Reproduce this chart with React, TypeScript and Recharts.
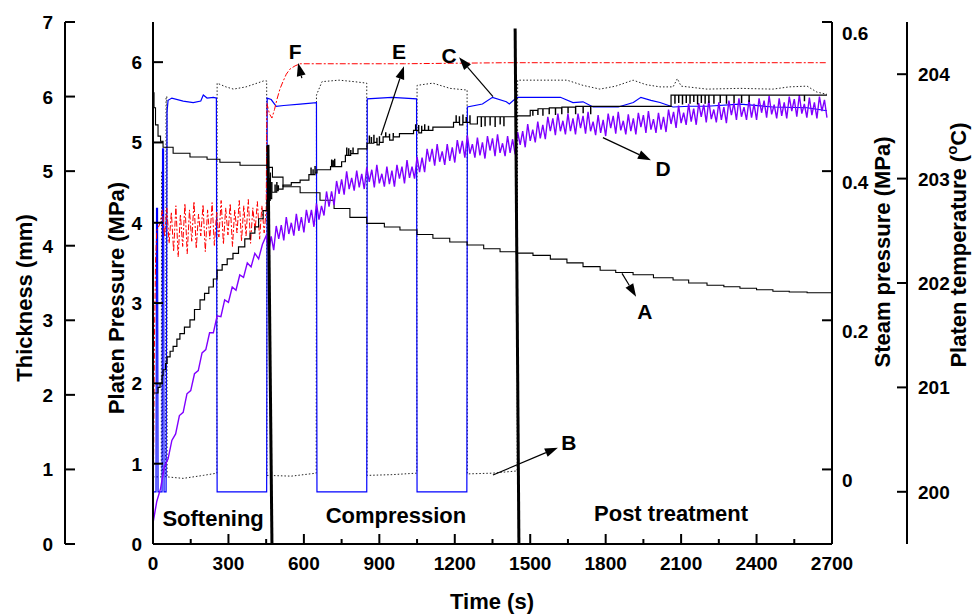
import { LineChart, Line, XAxis, YAxis, ReferenceLine, ReferenceDot } from "recharts"

const FONT = '"Liberation Sans", Arial, Helvetica, sans-serif'

// tick values
const TIME_TICKS = [0, 150, 300, 450, 600, 750, 900, 1050, 1200, 1350, 1500, 1650, 1800, 1950, 2100, 2250, 2400, 2550, 2700]
const THICK_TICKS = [0, 1, 2, 3, 4, 5, 6, 7]
const PRESS_TICKS = [0, 1, 2, 3, 4, 5, 6]
const STEAM_TICKS = [0, 0.2, 0.4, 0.6]
const TEMP_TICKS = [200, 201, 202, 203, 204]

// A: thickness (mm) vs time (s)
const thicknessA: [number, number][] = [
  [0, 6.05], [4, 5.85], [10, 5.62], [20, 5.47], [30, 5.4], [40, 5.32], [80, 5.24], [147, 5.19],
  [215, 5.16], [266, 5.12], [346, 5.08], [453, 5.05], [475, 4.92], [517, 4.79], [585, 4.71],
  [664, 4.61], [720, 4.5], [783, 4.38], [850, 4.3], [920, 4.25], [982, 4.21], [1050, 4.15],
  [1113, 4.1], [1180, 4.05], [1249, 4.01], [1315, 3.96], [1380, 3.92], [1445, 3.9], [1511, 3.87],
  [1580, 3.82], [1646, 3.77], [1710, 3.72], [1778, 3.67], [1840, 3.64], [1909, 3.61], [1990, 3.57],
  [2068, 3.54], [2130, 3.5], [2203, 3.47], [2270, 3.45], [2334, 3.43], [2400, 3.41], [2465, 3.39],
  [2530, 3.38], [2601, 3.37], [2700, 3.35],
]

// B: steam pressure (MPa)
const steamB: [number, number][] = [
  [0, -0.01], [33, -0.01], [34, 0.4], [37, 0.4], [38, -0.01], [50, -0.01], [52, 0.5], [55, 0.5],
  [56, -0.01], [120, -0.012], [200, -0.008], [254, -0.005], [255, 0.518], [290, 0.513], [320, 0.51],
  [370, 0.513], [440, 0.521], [452, 0.521], [453, -0.008], [550, -0.009], [649, -0.005], [650, 0.502],
  [672, 0.52], [740, 0.522], [800, 0.52], [850, 0.518], [851, -0.008], [950, -0.007], [1049, -0.005],
  [1050, 0.515], [1113, 0.518], [1181, 0.511], [1240, 0.509], [1249, 0.509], [1250, -0.006],
  [1350, -0.005], [1448, -0.002], [1450, 0.522], [1646, 0.522], [1710, 0.515], [1777, 0.51],
  [1840, 0.514], [1909, 0.522], [1960, 0.516], [2016, 0.513], [2068, 0.513], [2085, 0.524],
  [2100, 0.514], [2203, 0.51], [2334, 0.511], [2465, 0.51], [2530, 0.513], [2601, 0.514],
  [2640, 0.506], [2680, 0.503],
]

// C: blue pressure curve (steam axis)
const pressureC: [number, number][] = [
  [0, -0.03], [12, -0.03], [14, 0.35], [18, 0.35], [20, -0.03], [36, -0.03], [38, 0.43], [42, 0.43],
  [44, -0.03], [52, -0.03], [56, 0.48], [60, 0.495], [75, 0.498], [120, 0.494], [160, 0.492],
  [190, 0.494], [200, 0.502], [215, 0.498], [240, 0.499], [252, 0.498], [255, -0.03], [452, -0.03],
  [454, 0.498], [470, 0.496], [490, 0.487], [520, 0.488], [585, 0.49], [650, 0.492], [652, -0.03],
  [850, -0.03], [852, 0.497], [950, 0.499], [1048, 0.497], [1050, -0.03], [1248, -0.03],
  [1250, 0.486], [1310, 0.49], [1350, 0.499], [1405, 0.493], [1417, 0.49], [1447, 0.499],
  [1620, 0.499], [1670, 0.492], [1710, 0.493], [1750, 0.486], [1850, 0.486], [1910, 0.492],
  [1940, 0.499], [1980, 0.495], [2016, 0.492], [2068, 0.486], [2135, 0.487], [2203, 0.487],
  [2334, 0.49], [2465, 0.486], [2601, 0.485], [2680, 0.481],
]

// D: purple noisy curve (platen pressure axis)
const curveD: [number, number][] = [
  [0, 0.26], [15, 0.53], [30, 0.69], [45, 0.96], [60, 1.06], [75, 1.29], [90, 1.37], [105, 1.6],
  [120, 1.64], [135, 1.87], [150, 1.91], [165, 2.12], [180, 2.16], [195, 2.38], [210, 2.42], [225, 2.63],
  [240, 2.63], [255, 2.84], [270, 2.83], [285, 3.04], [300, 3.01], [315, 3.2], [330, 3.16], [345, 3.35],
  [360, 3.32], [375, 3.5], [390, 3.45], [405, 3.62], [420, 3.55], [435, 3.73],
  [450, 3.84], [460, 3.65], [470, 3.83], [480, 3.66], [490, 3.96], [500, 3.8], [510, 3.97], [520, 3.78],
  [530, 4.07], [540, 3.86], [550, 4.0], [560, 3.84], [570, 4.11], [580, 3.9], [590, 4.07], [600, 3.88],
  [610, 4.16], [620, 4.0], [630, 4.16], [640, 3.95], [650, 4.24], [660, 4.04], [670, 4.21], [680, 4.09],
  [690, 4.39], [700, 4.2], [710, 4.39], [720, 4.22], [730, 4.52], [740, 4.36], [750, 4.54], [760, 4.35],
  [770, 4.64], [780, 4.42], [790, 4.56], [800, 4.4], [810, 4.65], [820, 4.44], [830, 4.61], [840, 4.42],
  [850, 4.69], [860, 4.51], [870, 4.66], [880, 4.44], [890, 4.72], [900, 4.49], [910, 4.61], [920, 4.45],
  [930, 4.7], [940, 4.48], [950, 4.65], [960, 4.45], [970, 4.72], [980, 4.55], [990, 4.7], [1000, 4.49],
  [1010, 4.78], [1020, 4.56], [1030, 4.7], [1040, 4.55], [1050, 4.82], [1060, 4.63], [1070, 4.81],
  [1080, 4.63], [1090, 4.92], [1100, 4.76], [1110, 4.92], [1120, 4.71], [1130, 4.98], [1140, 4.76],
  [1150, 4.89], [1160, 4.72], [1170, 4.98], [1180, 4.77], [1190, 4.94], [1200, 4.75], [1210, 5.03],
  [1220, 4.86], [1230, 5.02], [1240, 4.81], [1250, 5.09], [1260, 4.86], [1270, 4.98], [1280, 4.81],
  [1290, 5.06], [1300, 4.84], [1310, 5.0], [1320, 4.8], [1330, 5.08], [1340, 4.9], [1350, 5.05],
  [1360, 4.83], [1370, 5.1], [1380, 4.87], [1390, 4.99], [1400, 4.83], [1410, 5.08], [1420, 4.87],
  [1430, 5.04], [1440, 4.85], [1450, 5.13], [1460, 4.97], [1470, 5.14], [1480, 4.94], [1490, 5.23],
  [1500, 5.02], [1510, 5.16], [1520, 5.0], [1530, 5.26], [1540, 5.05], [1550, 5.22], [1560, 5.04],
  [1570, 5.32], [1580, 5.14], [1590, 5.3], [1600, 5.09], [1610, 5.36], [1620, 5.14], [1630, 5.27],
  [1640, 5.1], [1650, 5.36], [1660, 5.14], [1670, 5.3], [1680, 5.1], [1690, 5.36], [1700, 5.18],
  [1710, 5.33], [1720, 5.11], [1730, 5.38], [1740, 5.14], [1750, 5.26], [1760, 5.09], [1770, 5.34],
  [1780, 5.12], [1790, 5.28], [1800, 5.08], [1810, 5.36], [1820, 5.18], [1830, 5.33], [1840, 5.11],
  [1850, 5.38], [1860, 5.15], [1870, 5.27], [1880, 5.1], [1890, 5.35], [1900, 5.14], [1910, 5.3],
  [1920, 5.1], [1930, 5.37], [1940, 5.19], [1950, 5.34], [1960, 5.12], [1970, 5.39], [1980, 5.16],
  [1990, 5.29], [2000, 5.12], [2010, 5.37], [2020, 5.16], [2030, 5.32], [2040, 5.13], [2050, 5.41],
  [2060, 5.23], [2070, 5.38], [2080, 5.18], [2090, 5.46], [2100, 5.24], [2110, 5.37], [2120, 5.22],
  [2130, 5.48], [2140, 5.26], [2150, 5.42], [2160, 5.22], [2170, 5.49], [2180, 5.32], [2190, 5.47],
  [2200, 5.25], [2210, 5.52], [2220, 5.29], [2230, 5.41], [2240, 5.25], [2250, 5.5], [2260, 5.28],
  [2270, 5.44], [2280, 5.24], [2290, 5.52], [2300, 5.34], [2310, 5.49], [2320, 5.28], [2330, 5.55],
  [2340, 5.32], [2350, 5.44], [2360, 5.28], [2370, 5.53], [2380, 5.31], [2390, 5.48], [2400, 5.28],
  [2410, 5.55], [2420, 5.37], [2430, 5.52], [2440, 5.31], [2450, 5.58], [2460, 5.35], [2470, 5.47],
  [2480, 5.3], [2490, 5.55], [2500, 5.33], [2510, 5.5], [2520, 5.3], [2530, 5.57], [2540, 5.39],
  [2550, 5.54], [2560, 5.32], [2570, 5.59], [2580, 5.36], [2590, 5.48], [2600, 5.31], [2610, 5.56],
  [2620, 5.34], [2630, 5.5], [2640, 5.3], [2650, 5.57], [2660, 5.39], [2670, 5.53], [2680, 5.31],
]

// E: black stepped curve with spikes (platen pressure axis)
const curveE: [number, number][] = [
  [0, 1.88], [20, 1.95], [28, 2.0], [36, 2.1], [40, 2.17], [50, 2.25], [56, 2.33], [68, 2.4], [80, 2.46],
  [95, 2.55], [107, 2.62], [125, 2.7], [147, 2.79], [165, 2.92], [187, 3.04], [205, 3.12], [222, 3.2],
  [240, 3.3], [255, 3.41], [275, 3.48], [295, 3.55], [318, 3.62], [340, 3.7], [365, 3.8], [386, 3.87],
  [405, 3.95], [420, 4.05], [438, 4.15], [453, 4.28],
  [460, 4.55], [461, 4.28], [466, 4.62], [467, 4.3], [472, 4.5], [473, 4.38],
  [477, 4.38], [485, 4.47], [486, 4.38], [492, 4.5], [493, 4.4], [498, 4.46], [499, 4.42],
  [517, 4.47], [550, 4.5], [585, 4.53], [620, 4.6],
  [628, 4.68], [629, 4.6], [636, 4.66], [637, 4.6], [644, 4.7], [645, 4.62],
  [652, 4.66], [706, 4.7], [710, 4.78], [711, 4.7], [716, 4.77], [717, 4.7], [722, 4.79], [723, 4.7],
  [750, 4.76], [765, 4.84], [770, 4.93], [771, 4.84], [778, 4.92], [779, 4.84], [786, 4.9], [787, 4.86],
  [795, 4.93], [796, 4.86], [815, 4.92], [851, 4.99],
  [860, 5.08], [861, 4.99], [868, 5.06], [869, 4.99], [878, 5.09], [879, 5.0], [890, 5.05], [891, 4.97],
  [900, 5.07], [901, 5.0], [915, 5.07], [925, 5.12], [926, 5.07], [940, 5.1], [941, 5.03], [955, 5.11],
  [956, 5.07], [980, 5.11], [1036, 5.15], [1044, 5.22], [1045, 5.15], [1056, 5.21], [1057, 5.12],
  [1068, 5.2], [1069, 5.15], [1080, 5.22], [1081, 5.15], [1095, 5.2], [1096, 5.15], [1113, 5.19],
  [1195, 5.25], [1205, 5.33], [1206, 5.25], [1218, 5.32], [1219, 5.22], [1232, 5.34], [1233, 5.25],
  [1245, 5.31], [1246, 5.25], [1260, 5.33], [1261, 5.23], [1290, 5.32], [1305, 5.2], [1306, 5.32],
  [1320, 5.21], [1321, 5.32], [1340, 5.22], [1341, 5.32], [1360, 5.2], [1361, 5.32], [1380, 5.23],
  [1381, 5.32], [1395, 5.21], [1396, 5.32], [1447, 5.33], [1500, 5.4],
  [1510, 5.34], [1511, 5.4], [1530, 5.35], [1531, 5.42], [1550, 5.34], [1551, 5.42], [1575, 5.36],
  [1576, 5.43], [1600, 5.35], [1601, 5.43], [1625, 5.36], [1626, 5.44], [1650, 5.37], [1651, 5.44],
  [1680, 5.36], [1681, 5.45], [1710, 5.37], [1711, 5.45], [1740, 5.36], [1741, 5.45], [1778, 5.45],
  [2040, 5.45], [2060, 5.59], [2075, 5.49], [2076, 5.59], [2090, 5.5], [2091, 5.59], [2105, 5.48],
  [2106, 5.59], [2120, 5.5], [2121, 5.59], [2135, 5.49], [2136, 5.59], [2150, 5.51], [2151, 5.59],
  [2165, 5.48], [2166, 5.59], [2180, 5.5], [2181, 5.59], [2195, 5.49], [2196, 5.59], [2210, 5.5],
  [2211, 5.59], [2230, 5.49], [2231, 5.59], [2255, 5.5], [2256, 5.59], [2280, 5.49], [2281, 5.59],
  [2310, 5.5], [2311, 5.59], [2340, 5.5], [2341, 5.59], [2370, 5.51], [2371, 5.59], [2590, 5.52],
  [2591, 5.59], [2680, 5.59],
]

// F: platen temperature (°C)
const tempF: [number, number][] = [
  [0, 199.55], [3, 200.5], [6, 201.5], [10, 202.2], [15, 202.5], [28, 202.57], [37, 202.7], [46, 202.45],
  [55, 202.72], [64, 202.38], [73, 202.68], [82, 202.3], [91, 202.74], [100, 202.25], [109, 202.66],
  [118, 202.35], [127, 202.76], [136, 202.28], [145, 202.7], [154, 202.4], [163, 202.78], [172, 202.33],
  [181, 202.66], [190, 202.45], [199, 202.75], [208, 202.3], [217, 202.7], [226, 202.42], [235, 202.77],
  [244, 202.36], [253, 202.68], [262, 202.44], [271, 202.79], [280, 202.37], [289, 202.72], [298, 202.46],
  [307, 202.76], [316, 202.35], [325, 202.7], [334, 202.48], [343, 202.79], [352, 202.4], [361, 202.74],
  [370, 202.45], [379, 202.8], [388, 202.38], [397, 202.72], [406, 202.5], [415, 202.78], [424, 202.42],
  [433, 202.74], [442, 202.48], [450, 202.7], [453, 203.72], [463, 203.62], [473, 203.58], [483, 203.66],
  [493, 203.76], [505, 203.86], [517, 203.93], [530, 204.0], [545, 204.05], [565, 204.08], [585, 204.1],
  [1000, 204.1], [1400, 204.11], [2680, 204.11],
]

// stage dividers (time, platen pressure)
const dividers: [number, number][][] = [
  [[457, 4.97], [473, 0]],
  [[1440, 6.42], [1455, 0]],
]

// label arrows: tail -> head (time, platen pressure)
const arrows: [number, number][][] = [
  [[592, 5.8], [577, 5.99]],
  [[907, 5.09], [998, 5.95]],
  [[1352, 5.57], [1217, 6.06]],
  [[1789, 5.06], [1980, 4.78]],
  [[1865, 3.37], [1921, 3.08]],
  [[1352, 0.86], [1610, 1.2]],
]

const letters: [string, number, number][] = [
  ["F", 565, 6.13],
  ["E", 978, 6.13],
  ["C", 1177, 6.08],
  ["D", 2028, 4.68],
  ["A", 1956, 2.9],
  ["B", 1654, 1.26],
]

const stages: [string, number, number][] = [
  ["Softening", 239, 0.22],
  ["Compression", 966, 0.26],
  ["Post treatment", 2060, 0.29],
]

const rows = (pts: [number, number][]) => pts.map(([t, v]) => ({ t, v }))

const textStyle = { fontFamily: FONT, fontWeight: "bold" as const, fill: "#000" }

function XTick({ x, y, payload }: any) {
  const major = payload.value % 300 === 0
  return (
    <g>
      <line x1={x} x2={x} y1={y} y2={y - (major ? 10 : 5)} stroke="#000" strokeWidth={2} />
      {major && (
        <text x={x} y={y + 26} textAnchor="middle" fontSize={19} {...textStyle}>
          {payload.value}
        </text>
      )}
    </g>
  )
}

function LeftTick({ x, y, payload, gap }: any) {
  return (
    <g>
      <line x1={x} x2={x + 10} y1={y} y2={y} stroke="#000" strokeWidth={2} />
      <text x={x - gap} y={y + 7} textAnchor="end" fontSize={19} {...textStyle}>
        {payload.value}
      </text>
    </g>
  )
}

function RightTick({ x, y, payload, gap, dy }: any) {
  return (
    <g>
      <line x1={x} x2={x - 10} y1={y} y2={y} stroke="#000" strokeWidth={2} />
      <text x={x + gap} y={y + dy} textAnchor="start" fontSize={19} {...textStyle}>
        {payload.value}
      </text>
    </g>
  )
}

function VTitle({ cx, cy, children }: any) {
  return (
    <text x={cx} y={cy} transform={`rotate(-90, ${cx}, ${cy})`} textAnchor="middle" fontSize={22} {...textStyle}>
      {children}
    </text>
  )
}

function HTitle({ cx, cy, children }: any) {
  return (
    <text x={cx} y={cy} textAnchor="middle" fontSize={22} {...textStyle}>
      {children}
    </text>
  )
}

function Arrow({ x1, y1, x2, y2 }: any) {
  const a = Math.atan2(y2 - y1, x2 - x1)
  const len = 13
  const half = 4.5
  const bx = x2 - len * Math.cos(a)
  const by = y2 - len * Math.sin(a)
  const pts = [
    `${x2},${y2}`,
    `${bx - half * Math.sin(a)},${by + half * Math.cos(a)}`,
    `${bx + half * Math.sin(a)},${by - half * Math.cos(a)}`,
  ].join(" ")
  return (
    <g>
      <line x1={x1} y1={y1} x2={bx} y2={by} stroke="#000" strokeWidth={1.2} />
      <polygon points={pts} fill="#000" />
    </g>
  )
}

export default function App() {
  return (
    <div style={{ position: "absolute", left: 0, top: 0, background: "#fff" }}>
      <LineChart width={974} height={616} margin={{ top: 22, right: 0, bottom: 0, left: 0 }}>
        <XAxis
          dataKey="t"
          type="number"
          domain={[0, 2700]}
          ticks={TIME_TICKS}
          interval={0}
          allowDataOverflow
          height={72}
          tickSize={0}
          tickMargin={0}
          tickLine={false}
          axisLine={{ stroke: "#000", strokeWidth: 2 }}
          tick={(p: any) => <XTick {...p} />}
          label={<HTitle cx={492} cy={609}>Time (s)</HTitle>}
        />
        <YAxis
          yAxisId="p"
          orientation="left"
          width={88}
          type="number"
          domain={[0, 6.5]}
          ticks={PRESS_TICKS}
          interval={0}
          allowDataOverflow
          tickSize={0}
          tickMargin={0}
          tickLine={false}
          axisLine={{ stroke: "#000", strokeWidth: 2 }}
          tick={(p: any) => <LeftTick {...p} gap={11} />}
          label={<VTitle cx={124} cy={298}>Platen Pressure (MPa)</VTitle>}
        />
        <YAxis
          yAxisId="thk"
          orientation="left"
          width={65}
          type="number"
          domain={[0, 7]}
          ticks={THICK_TICKS}
          interval={0}
          allowDataOverflow
          tickSize={0}
          tickMargin={0}
          tickLine={false}
          axisLine={{ stroke: "#000", strokeWidth: 2 }}
          tick={(p: any) => <LeftTick {...p} gap={12} />}
          label={<VTitle cx={32} cy={298}>Thickness (mm)</VTitle>}
        />
        <YAxis
          yAxisId="steam"
          orientation="right"
          width={75}
          type="number"
          domain={[-0.1, 0.6]}
          ticks={STEAM_TICKS}
          interval={0}
          allowDataOverflow
          tickSize={0}
          tickMargin={0}
          tickLine={false}
          axisLine={{ stroke: "#000", strokeWidth: 2 }}
          tick={(p: any) => <RightTick {...p} gap={10} dy={18} />}
          label={<VTitle cx={890} cy={252}>Steam pressure (MPa)</VTitle>}
        />
        <YAxis
          yAxisId="temp"
          orientation="right"
          width={67}
          type="number"
          domain={[199.5, 204.5]}
          ticks={TEMP_TICKS}
          interval={0}
          allowDataOverflow
          tickSize={0}
          tickMargin={0}
          tickLine={false}
          axisLine={{ stroke: "#000", strokeWidth: 2 }}
          tick={(p: any) => <RightTick {...p} gap={11} dy={7} />}
          label={
            <VTitle cx={966} cy={245}>
              Platen temperature (<tspan dy={-9} fontSize={15}>o</tspan>
              <tspan dy={9}>C)</tspan>
            </VTitle>
          }
        />

        <Line yAxisId="steam" data={rows(steamB)} dataKey="v" type="linear" stroke="#222" strokeWidth={1} strokeDasharray="1.5 2" dot={false} activeDot={false} isAnimationActive={false} />
        <Line yAxisId="steam" data={rows(pressureC)} dataKey="v" type="linear" stroke="#0000ff" strokeWidth={1.2} dot={false} activeDot={false} isAnimationActive={false} />
        <Line yAxisId="thk" data={rows(thicknessA)} dataKey="v" type="stepAfter" stroke="#000" strokeWidth={1.1} dot={false} activeDot={false} isAnimationActive={false} />
        <Line yAxisId="temp" data={rows(tempF)} dataKey="v" type="linear" stroke="#ff0000" strokeWidth={1} strokeDasharray="6 2 2 2" dot={false} activeDot={false} isAnimationActive={false} />
        <Line yAxisId="p" data={rows(curveD)} dataKey="v" type="linear" stroke="#8000ff" strokeWidth={1.4} dot={false} activeDot={false} isAnimationActive={false} />
        <Line yAxisId="p" data={rows(curveE)} dataKey="v" type="stepAfter" stroke="#000" strokeWidth={1.2} dot={false} activeDot={false} isAnimationActive={false} />

        {dividers.map((seg, i) => (
          <ReferenceLine key={`d${i}`} yAxisId="p" segment={seg.map(([x, y]) => ({ x, y }))} stroke="#000" strokeWidth={3} />
        ))}
        {arrows.map((seg, i) => (
          <ReferenceLine
            key={`a${i}`}
            yAxisId="p"
            segment={seg.map(([x, y]) => ({ x, y }))}
            shape={(p: any) => <Arrow {...p} />}
          />
        ))}
        {letters.map(([txt, t, v]) => (
          <ReferenceDot
            key={txt}
            yAxisId="p"
            x={t}
            y={v}
            r={0}
            shape={(p: any) => (
              <text x={p.cx} y={p.cy + 7.5} textAnchor="middle" fontSize={21} {...textStyle}>
                {txt}
              </text>
            )}
          />
        ))}
        {stages.map(([txt, t, v]) => (
          <ReferenceDot
            key={txt}
            yAxisId="p"
            x={t}
            y={v}
            r={0}
            shape={(p: any) => (
              <text x={p.cx} y={p.cy} textAnchor="middle" fontSize={22} {...textStyle}>
                {txt}
              </text>
            )}
          />
        ))}
      </LineChart>
    </div>
  )
}
